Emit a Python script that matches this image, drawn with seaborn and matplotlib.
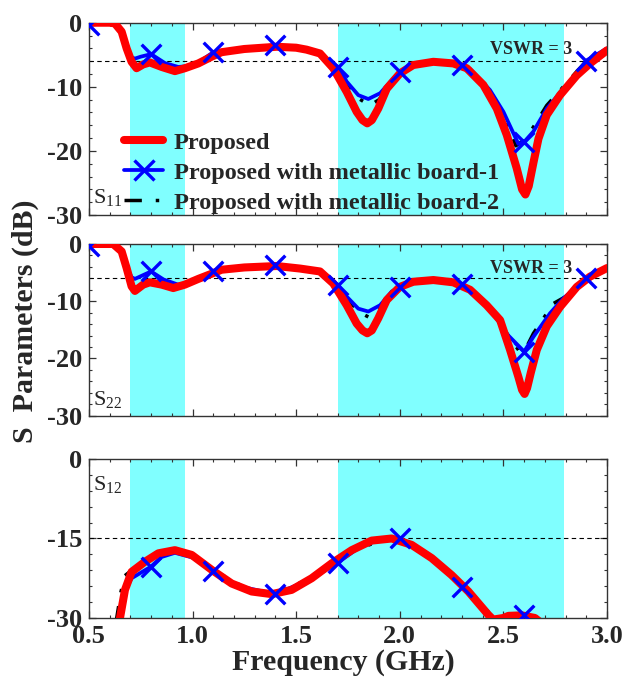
import numpy as np
import pandas as pd
import seaborn as sns
import matplotlib
matplotlib.use("Agg")
import matplotlib.pyplot as plt
from matplotlib.lines import Line2D
from matplotlib.ticker import MultipleLocator

# ---------------- data ----------------
# S11
s11_red_f = [0.50, 0.60, 0.625, 0.658, 0.682, 0.706, 0.730, 0.762, 0.794, 0.851, 0.915, 0.963, 1.028, 1.092, 1.14, 1.25,
             1.406, 1.50, 1.55, 1.615, 1.679, 1.744, 1.792, 1.82, 1.843, 1.865, 1.896, 1.937, 2.001, 2.065, 2.162, 2.258,
             2.323, 2.403, 2.468, 2.516, 2.564, 2.590, 2.606, 2.622, 2.645, 2.669, 2.709, 2.773, 2.854, 2.918, 3.0]
s11_red_db = [0.0, 0.0, -0.1, -1.4, -4.0, -6.1, -7.1, -6.5, -6.2, -6.9, -7.55, -7.1, -6.35, -5.3, -4.6, -4.1,
              -3.75, -3.9, -4.2, -4.8, -7.1, -10.8, -13.9, -15.2, -15.7, -15.2, -13.4, -10.3, -7.9, -6.6, -6.1, -6.35,
              -7.1, -9.7, -13.4, -17.5, -22.7, -26.0, -26.8, -25.5, -21.8, -18.1, -14.4, -11.3, -8.2, -6.35, -4.3]

s11_blue_f = [0.50, 0.60, 0.625, 0.658, 0.682, 0.706, 0.722, 0.75, 0.80, 0.867, 0.931, 0.97, 1.028, 1.10, 1.25, 1.40,
              1.50, 1.55, 1.615, 1.70, 1.744, 1.80, 1.848, 1.905, 1.969, 2.00, 2.065, 2.162, 2.30, 2.339, 2.435, 2.50,
              2.572, 2.60, 2.644, 2.709, 2.789, 2.854, 2.90, 3.0]
s11_blue_db = [-0.3, -0.1, -0.2, -1.4, -3.8, -5.4, -5.6, -5.3, -4.9, -6.3, -6.9, -6.8, -6.2, -4.6, -4.0, -3.5,
               -3.8, -4.1, -4.8, -6.9, -9.2, -11.3, -11.9, -11.0, -8.7, -7.65, -6.4, -6.1, -6.6, -7.2, -10.5, -13.9,
               -18.9, -18.6, -17.0, -13.4, -10.3, -7.9, -5.9, -4.0]

s11_black_f = [0.50, 0.60, 0.658, 0.682, 0.706, 0.73, 0.79, 0.867, 0.931, 0.97, 1.03, 1.10, 1.25, 1.40, 1.55, 1.615,
               1.70, 1.744, 1.80, 1.856, 1.90, 1.969, 2.00, 2.065, 2.162, 2.25, 2.34, 2.435, 2.50, 2.56, 2.60, 2.644,
               2.709, 2.789, 2.854, 2.90, 3.0]
s11_black_db = [0.0, 0.0, -1.4, -4.0, -5.9, -6.3, -5.9, -6.6, -7.2, -7.0, -6.3, -5.0, -4.1, -3.7, -4.2, -4.8,
                -7.0, -9.3, -11.8, -12.9, -12.0, -8.9, -7.8, -6.6, -6.3, -6.5, -7.6, -10.6, -14.2, -19.2, -18.3, -16.3,
                -12.9, -10.0, -7.6, -6.0, -4.2]

# S22
s22_red_f = [0.50, 0.617, 0.658, 0.682, 0.706, 0.722, 0.762, 0.794, 0.851, 0.907, 0.963, 1.028, 1.092, 1.14, 1.25,
             1.406, 1.52, 1.615, 1.679, 1.744, 1.792, 1.82, 1.843, 1.865, 1.896, 1.937, 2.0, 2.065, 2.162, 2.258, 2.339,
             2.419, 2.484, 2.532, 2.572, 2.590, 2.602, 2.614, 2.632, 2.661, 2.709, 2.773, 2.854, 2.918, 3.0]
s22_red_db = [0.0, 0.0, -1.3, -4.2, -7.4, -8.2, -7.1, -6.7, -7.1, -7.7, -7.1, -6.1, -5.2, -4.5, -4.1,
              -3.85, -4.3, -4.8, -6.9, -10.7, -13.9, -15.1, -15.6, -15.1, -13.0, -9.8, -7.5, -6.6, -6.3, -6.7, -8.0,
              -10.7, -13.3, -18.5, -23.2, -25.5, -26.2, -25.2, -22.5, -18.5, -14.4, -11.0, -7.5, -5.7, -4.2]

s22_blue_f = [0.50, 0.617, 0.658, 0.682, 0.706, 0.722, 0.80, 0.86, 0.93, 0.97, 1.028, 1.10, 1.25, 1.40, 1.52, 1.615,
              1.70, 1.744, 1.80, 1.848, 1.905, 1.961, 2.00, 2.065, 2.162, 2.30, 2.34, 2.42, 2.516, 2.60, 2.645, 2.725,
              2.789, 2.90, 3.0]
s22_blue_db = [-0.3, -0.1, -1.3, -4.0, -5.8, -6.1, -4.8, -6.2, -7.1, -6.9, -6.0, -4.8, -4.0, -3.6, -4.2, -4.8,
               -7.1, -9.2, -11.3, -11.8, -10.7, -8.3, -7.5, -6.6, -6.3, -7.0, -7.9, -10.5, -15.7, -18.8, -16.2, -12.1,
               -9.5, -6.0, -4.2]

s22_black_f = [0.50, 0.617, 0.658, 0.682, 0.706, 0.73, 0.80, 0.86, 0.93, 0.97, 1.03, 1.10, 1.25, 1.40, 1.52, 1.615,
               1.70, 1.744, 1.80, 1.856, 1.90, 1.961, 2.00, 2.065, 2.162, 2.25, 2.34, 2.42, 2.516, 2.58, 2.613, 2.645,
               2.741, 2.80, 2.894, 3.0]
s22_black_db = [0.0, 0.0, -1.3, -4.1, -6.4, -6.6, -6.0, -6.6, -7.2, -7.0, -6.1, -5.0, -4.1, -3.8, -4.3, -4.9,
                -7.2, -9.4, -11.8, -12.9, -11.6, -8.6, -7.7, -6.7, -6.5, -6.9, -8.2, -10.8, -15.6, -18.9, -17.9, -15.6,
                -10.4, -9.2, -6.3, -4.3]

# S12
s12_red_f = [0.640, 0.650, 0.674, 0.706, 0.770, 0.835, 0.915, 0.996, 1.092, 1.189, 1.285, 1.382, 1.478, 1.575, 1.671,
             1.768, 1.864, 1.961, 2.057, 2.154, 2.25, 2.331, 2.427, 2.45, 2.50, 2.524, 2.588, 2.652, 2.70, 2.80, 3.0]
s12_red_db = [-32.0, -30.0, -24.7, -21.3, -19.4, -17.8, -17.2, -18.1, -20.9, -23.5, -25.0, -25.5, -24.7, -22.5, -19.7,
              -17.2, -15.4, -15.0, -16.2, -18.7, -21.9, -25.0, -29.4, -30.3, -30.0, -29.6, -29.5, -30.0, -31.5, -33.0, -34.0]

s12_blue_f = [0.65, 0.674, 0.706, 0.80, 0.85, 0.915, 1.0, 1.10, 1.20, 1.40, 1.575, 1.70, 1.80, 1.90, 2.00, 2.06,
              2.154, 2.30, 2.427, 2.46, 2.60, 2.66, 2.90, 3.0]
s12_blue_db = [-31.0, -25.0, -22.5, -20.3, -18.5, -17.7, -18.6, -21.1, -23.8, -25.5, -22.6, -19.6, -16.8, -15.2, -14.9,
               -16.2, -18.8, -24.1, -29.6, -30.5, -29.5, -30.2, -33.0, -34.0]

s12_black_f = [0.63, 0.655, 0.674, 0.706, 0.77, 0.835, 0.915, 0.996, 1.092, 1.285, 1.382, 1.575, 1.768, 1.961, 2.057,
               2.154, 2.25, 2.331, 2.43, 2.46, 2.60, 2.66, 3.0]
s12_black_db = [-31.0, -25.0, -22.0, -21.0, -19.4, -17.8, -17.2, -18.0, -20.8, -25.0, -25.5, -22.5, -17.2, -14.9, -15.9,
                -18.4, -21.5, -24.6, -29.0, -30.0, -29.4, -30.1, -34.0]

marker_freqs = [0.5, 0.8, 1.1, 1.4, 1.7, 2.0, 2.3, 2.6, 2.9]
bands = [(0.70, 0.965), (1.70, 2.79)]
series_names = ["Proposed", "Proposed with metallic board-1", "Proposed with metallic board-2"]
panel_labels = ["11", "22", "12"]
ref_levels = [-6, -6, -15]
x_ticks = [0.5, 1.0, 1.5, 2.0, 2.5, 3.0]

# ---------------- style ----------------
sns.set_theme(style="white")
plt.rcParams["font.family"] = ["Liberation Serif", "DejaVu Serif"]
plt.rcParams["mathtext.fontset"] = "custom"
plt.rcParams["mathtext.rm"] = "Liberation Serif"

RED, BLUE, BLACK = "#ff0000", "#0000ff", "#000000"
CYAN = "#80ffff"
DASHDOT = (0, (5, 4, 1, 4))
RED_LW, BLUE_LW, BLACK_LW = 5.8, 2.7, 2.5

fig = plt.figure(figsize=(6.35, 6.8), dpi=100)
L, W = 0.140, 0.816
ax1 = fig.add_axes([L, 0.6838, W, 0.2828])
ax2 = fig.add_axes([L, 0.3887, W, 0.2525])
ax3 = fig.add_axes([L, 0.0912, W, 0.2338])

panels = [
    (ax1, s11_red_f, s11_red_db, s11_blue_f, s11_blue_db, s11_black_f, s11_black_db, [0, -10, -20, -30], 2),
    (ax2, s22_red_f, s22_red_db, s22_blue_f, s22_blue_db, s22_black_f, s22_black_db, [0, -10, -20, -30], 2),
    (ax3, s12_red_f, s12_red_db, s12_blue_f, s12_blue_db, s12_black_f, s12_black_db, [0, -15, -30], 3),
]

for i, (ax, rf, rd, bf, bd, kf, kd, yt, ymin) in enumerate(panels):
    for a, b in bands:
        ax.axvspan(a, b, color=CYAN, lw=0, zorder=0)
    ax.axhline(ref_levels[i], color="black", lw=0.8, ls=(0, (4, 3)), zorder=1)

    sns.lineplot(x=kf, y=kd, ax=ax, color=BLACK, lw=BLACK_LW, sort=False, estimator=None, zorder=2)
    ax.lines[-1].set_linestyle(DASHDOT)
    sns.lineplot(x=bf, y=bd, ax=ax, color=BLUE, lw=BLUE_LW, sort=False, estimator=None, zorder=3)
    sns.lineplot(x=rf, y=rd, ax=ax, color=RED, lw=RED_LW, sort=False, estimator=None, zorder=4)

    bf_arr = np.array(bf)
    bd_arr = np.array(bd)
    mask = np.isin(np.round(bf_arr, 3), np.round(marker_freqs, 3))
    sns.scatterplot(x=bf_arr[mask], y=bd_arr[mask], ax=ax, marker="x", s=200, color=BLUE,
                    linewidth=2.4, zorder=5)

    ax.set_xlim(0.5, 3.0)
    ax.set_ylim(-30, 0)
    ax.set_yticks(yt)
    ax.set_yticklabels([f"{v:d}" for v in yt])
    ax.yaxis.set_minor_locator(MultipleLocator(ymin))
    ax.set_xticks(x_ticks)
    ax.xaxis.set_minor_locator(MultipleLocator(0.1))
    ax.tick_params(which="both", direction="in", top=True, right=True, bottom=True, left=True,
                   color="#333333")
    ax.tick_params(which="major", length=5, width=0.9, labelsize=19, pad=5)
    ax.tick_params(which="minor", length=2.5, width=0.8)
    if i < 2:
        ax.set_xticklabels([])
    else:
        ax.set_xticklabels([f"{v:.1f}" for v in x_ticks])
    for lab in ax.get_yticklabels() + ax.get_xticklabels():
        lab.set_fontweight("bold")
    for sp in ax.spines.values():
        sp.set_color("#333333")
        sp.set_linewidth(1.0)
    ax.set_xlabel("")
    ax.set_ylabel("")
    ax.grid(False)

    ax.text(0.008, 0.03 if i < 2 else 0.77, r"S$_\mathregular{" + panel_labels[i] + "}$",
            transform=ax.transAxes, fontsize=16, ha="left", va="bottom", zorder=6)
    if i < 2:
        ax.text(0.775, 0.86, "VSWR = 3", transform=ax.transAxes, fontsize=13,
                fontweight="bold", ha="left", va="center", zorder=6)

handles = [
    Line2D([], [], color=RED, lw=RED_LW),
    Line2D([], [], color=BLUE, lw=BLUE_LW, marker="x", ms=14, mew=2.4),
    Line2D([], [], color=BLACK, lw=BLACK_LW, ls=DASHDOT),
]
ax1.legend(handles, series_names, loc="center left", bbox_to_anchor=(0.068, 0.22), frameon=False,
           prop={"weight": "bold", "size": 17.5}, handlelength=1.6, handletextpad=0.45, labelspacing=0.32,
           borderpad=0, borderaxespad=0, numpoints=1)

fig.text(0.040, 0.527, "S  Parameters (dB)", rotation=90, ha="center", va="center",
         fontsize=21.5, fontweight="bold")
fig.text(0.541, 0.026, "Frequency (GHz)", ha="center", va="center", fontsize=21.5, fontweight="bold")

fig.savefig("out.png", dpi=100)
